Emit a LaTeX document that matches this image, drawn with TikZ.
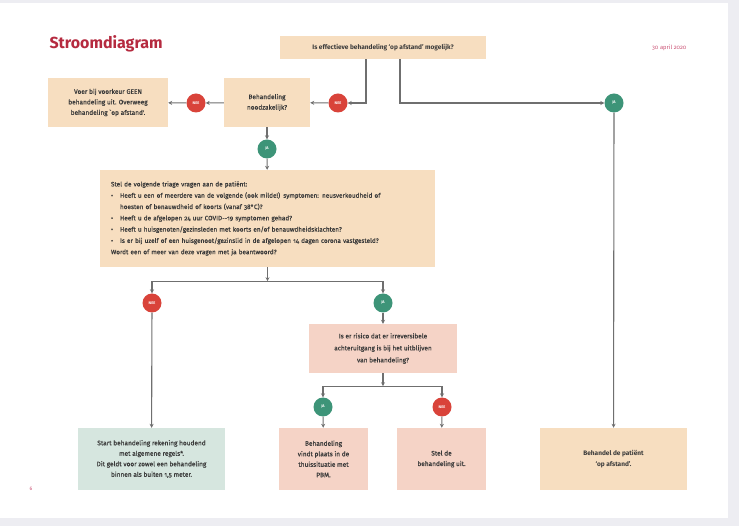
\documentclass[tikz,border=0pt]{standalone}
\usepackage{fontspec}
\setmainfont{Fira Sans}[Numbers=OldStyle]
\newfontfamily\bodyfont{Fira Sans}[Numbers=OldStyle, FakeBold=0.6]
\usepackage{tikz}
\usetikzlibrary{arrows.meta}

\definecolor{peach}{HTML}{F7DEC0}
\definecolor{rose}{HTML}{F5D3C6}
\definecolor{mint}{HTML}{D6E6DF}
\definecolor{neered}{HTML}{D9433A}
\definecolor{jagreen}{HTML}{3D9478}
\definecolor{flowgrey}{HTML}{6F6F6F}
\definecolor{titlered}{HTML}{B52A3F}
\definecolor{datepink}{HTML}{CC5577}
\definecolor{ink}{HTML}{3A3A3A}
\definecolor{backdrop}{HTML}{EDEDF2}

\tikzset{
  box/.style={inner sep=0pt, align=center, text=ink,
    font=\bodyfont\fontsize{6.5}{10.5}\selectfont},
  nee/.style={circle, fill=neered, minimum size=19pt, inner sep=0pt,
    text=white, font=\fontsize{3.8}{4}\selectfont\bfseries},
  ja/.style={nee, fill=jagreen},
  flow/.style={draw=flowgrey, line width=1.1pt,
    -{Stealth[length=4pt,width=4pt]}}
}

\begin{document}
\begin{tikzpicture}[x=1pt,y=-1pt]
\useasboundingbox (0,0) rectangle (739,526);
\fill[backdrop] (0,0) rectangle (739,526);
\fill[white] (0,3) rectangle (728,518);

\node[text=titlered, font=\fontsize{16}{18}\selectfont\bfseries, anchor=west] (title) at (46,44) {Stroomdiagram};
\node[text=datepink, font=\fontsize{5.8}{7}\selectfont, anchor=east] (date) at (690,48) {30 april 2020};
\node[text=datepink, font=\fontsize{5}{6}\selectfont] (page) at (31,489) {6};

\node[box, fill=peach, minimum width=206pt, minimum height=23pt, font=\fontsize{6.5}{10.5}\selectfont\bfseries] (q1) at (383,47.5)
  {Is effectieve behandeling `op afstand' mogelijk?};
\node[box, fill=peach, minimum width=86pt, minimum height=49pt] (nood) at (267,102.5)
  {Behandeling\\noodzakelijk?};
\node[box, fill=peach, minimum width=120pt, minimum height=49pt] (geen) at (108,102.5)
  {Voer bij voorkeur GEEN\\behandeling uit. Overweeg\\behandeling `op afstand'.};
\node[box, fill=peach, minimum width=335pt, minimum height=97pt, align=left,
  text width=313pt, inner xsep=11pt, font=\bodyfont\fontsize{6.4}{11.3}\selectfont] (triage) at (267.5,218.5)
  {Stel de volgende triage vragen aan de patiënt:\\
  \makebox[9pt][l]{\textbullet}Heeft u een of meerdere van de volgende (ook milde!) symptomen: neusverkoudheid of\\
  \hspace*{9pt}hoesten of benauwdheid of koorts (vanaf 38°C)?\\
  \makebox[9pt][l]{\textbullet}Heeft u de afgelopen 24 uur COVID--19 symptomen gehad?\\
  \makebox[9pt][l]{\textbullet}Heeft u huisgenoten/gezinsleden met koorts en/of benauwdheidsklachten?\\
  \makebox[9pt][l]{\textbullet}Is er bij uzelf of een huisgenoot/gezinslid in de afgelopen 14 dagen corona vastgesteld?\\
  Wordt een of meer van deze vragen met ja beantwoord?};
\node[box, fill=rose, minimum width=148pt, minimum height=49pt, font=\bodyfont\fontsize{6.5}{12}\selectfont] (risico) at (383,348.5)
  {Is er risico dat er irreversibele\\achteruitgang is bij het uitblijven\\van behandeling?};
\node[box, fill=mint, minimum width=147pt, minimum height=62pt] (start) at (151.5,459)
  {Start behandeling rekening houdend\\met algemene regels*.\\Dit geldt voor zowel een behandeling\\binnen als buiten 1,5 meter.};
\node[box, fill=rose, minimum width=89pt, minimum height=62pt] (thuis) at (323.5,459)
  {Behandeling\\vindt plaats in de\\thuissituatie met\\PBM.};
\node[box, fill=rose, minimum width=89pt, minimum height=62pt] (stel) at (441.5,459)
  {Stel de\\behandeling uit.};
\node[box, fill=peach, minimum width=147pt, minimum height=62pt, font=\fontsize{6.5}{10.5}\selectfont\bfseries] (afstand) at (613.5,459)
  {Behandel de patiënt\\`op afstand'.};

\foreach \Point/\Name/\Kind/\Label in {(338,103)/nee1/nee/NEE, (196,103)/nee2/nee/NEE, (614,103)/ja1/ja/JA,
  (267,149)/ja2/ja/JA, (152,303)/nee3/nee/NEE, (383,303)/ja3/ja/JA, (323,407)/ja4/ja/JA, (442,407)/nee4/nee/NEE}
    \node[\Kind] (\Name) at \Point {\Label};

\coordinate (split1) at ([yshift=-14pt]triage.south);
\coordinate (split2) at ([yshift=-13pt]risico.south);

\draw[flow] ([xshift=-17pt]q1.south) |- (nee1);
\draw[flow] ([xshift=17pt]q1.south) |- (ja1);
\draw[flow] (nee1) -- (nood);
\draw[flow] (nood) -- (nee2);
\draw[flow] (nee2) -- (geen);
\draw[flow] (nood) -- (ja2);
\draw[flow] (ja2) -- (triage);
\draw[flow] (ja1) -- (afstand);
\draw[flow] (triage) -- (split1);
\draw[flow] (split1) -| (nee3);
\draw[flow] (split1) -| (ja3);
\draw[flow] (nee3) -- (start);
\draw[flow] (ja3) -- (risico);
\draw[flow] (risico) -- (split2);
\draw[flow] (split2) -| (ja4);
\draw[flow] (split2) -| (nee4);
\draw[flow] (ja4) -- (thuis);
\draw[flow] (nee4) -- (stel);
\end{tikzpicture}
\end{document}
